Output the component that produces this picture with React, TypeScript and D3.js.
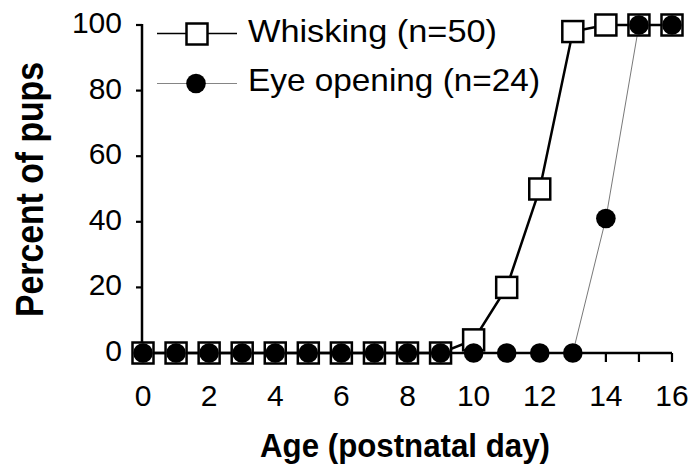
import React from "react";
import * as d3 from "d3";

const days = [0, 1, 2, 3, 4, 5, 6, 7, 8, 9, 10, 11, 12, 13, 14, 15, 16];
const whisking = [0, 0, 0, 0, 0, 0, 0, 0, 0, 0, 4, 20, 50, 98, 100, 100, 100];
const eyeOpening = [0, 0, 0, 0, 0, 0, 0, 0, 0, 0, 0, 0, 0, 0, 41, 100, 100];
const xTickLabels = [0, 2, 4, 6, 8, 10, 12, 14, 16];
const yTickLabels = [0, 20, 40, 60, 80, 100];
const legendLabels = ["Whisking (n=50)", "Eye opening (n=24)"];

const W = 696;
const H = 472;
const FONT = "'Liberation Sans', Arial, Helvetica, sans-serif";

export default function App() {
  const x = d3.scaleLinear().domain([0, 16]).range([143, 672]);
  const y = d3.scaleLinear().domain([0, 100]).range([353, 25]);
  const line = d3
    .line<number>()
    .x((_, i) => x(days[i]))
    .y((d) => y(d));
  const sq = 21;
  const r = 9.8;
  const axisX = x(0) - 1;

  return (
    <svg
      width={W}
      height={H}
      viewBox={`0 0 ${W} ${H}`}
      style={{ position: "absolute", left: 0, top: 0, background: "#fff" }}
    >
      <rect x={0} y={0} width={W} height={H} fill="#fff" />
      {/* Eye opening thin line */}
      <path d={line(eyeOpening) || ""} fill="none" stroke="#555" strokeWidth={0.8} />
      {/* Axes */}
      <line x1={axisX} x2={x(16)} y1={y(0)} y2={y(0)} stroke="#000" strokeWidth={2.5} />
      <line x1={axisX} x2={axisX} y1={y(0)} y2={y(100) - 1} stroke="#000" strokeWidth={2.5} />
      {days.map((d) => (
        <line key={"xt" + d} x1={x(d)} x2={x(d)} y1={y(0)} y2={y(0) + 9} stroke="#000" strokeWidth={2.2} />
      ))}
      {yTickLabels.map((t) => (
        <line key={"yt" + t} x1={axisX - 6} x2={axisX} y1={y(t)} y2={y(t)} stroke="#000" strokeWidth={2.2} />
      ))}
      {xTickLabels.map((t) => (
        <text key={"xl" + t} x={x(t)} y={406} textAnchor="middle" fontFamily={FONT} fontSize={30} fill="#000">
          {t}
        </text>
      ))}
      {yTickLabels.map((t) => (
        <text key={"yl" + t} x={122} y={y(t) + 8} textAnchor="end" fontFamily={FONT} fontSize={30} fill="#000">
          {t}
        </text>
      ))}
      {/* Whisking line */}
      <path d={line(whisking) || ""} fill="none" stroke="#000" strokeWidth={2.5} />
      {whisking.map((v, i) => (
        <rect
          key={"s" + i}
          x={x(days[i]) - sq / 2}
          y={y(v) - sq / 2}
          width={sq}
          height={sq}
          fill="#fff"
          stroke="#000"
          strokeWidth={2.5}
        />
      ))}
      {eyeOpening.map((v, i) => (
        <circle key={"c" + i} cx={x(days[i])} cy={y(v)} r={r} fill="#000" />
      ))}
      {/* Legend */}
      <line x1={157} x2={237} y1={33.5} y2={33.5} stroke="#000" strokeWidth={1.5} />
      <rect x={197 - sq / 2} y={34 - sq / 2} width={sq} height={sq} fill="#fff" stroke="#000" strokeWidth={2.5} />
      <text
        x={248}
        y={42}
        fontFamily={FONT}
        fontSize={32}
        fill="#000"
        textLength={249}
        lengthAdjust="spacingAndGlyphs"
      >
        {legendLabels[0]}
      </text>
      <line x1={157} x2={237} y1={83.5} y2={83.5} stroke="#666" strokeWidth={0.8} />
      <circle cx={196} cy={83.5} r={r} fill="#000" />
      <text
        x={248}
        y={91}
        fontFamily={FONT}
        fontSize={32}
        fill="#000"
        textLength={292}
        lengthAdjust="spacingAndGlyphs"
      >
        {legendLabels[1]}
      </text>
      {/* Axis titles */}
      <text
        transform={`translate(43,189.5) scale(1.12,1) rotate(-90)`}
        textAnchor="middle"
        fontFamily={FONT}
        fontSize={34}
        fontWeight="bold"
        fill="#000"
        textLength={255}
        lengthAdjust="spacingAndGlyphs"
      >
        Percent of pups
      </text>
      <text
        x={405}
        y={457}
        textAnchor="middle"
        fontFamily={FONT}
        fontSize={34}
        fontWeight="bold"
        fill="#000"
        textLength={290}
        lengthAdjust="spacingAndGlyphs"
      >
        Age (postnatal day)
      </text>
    </svg>
  );
}
